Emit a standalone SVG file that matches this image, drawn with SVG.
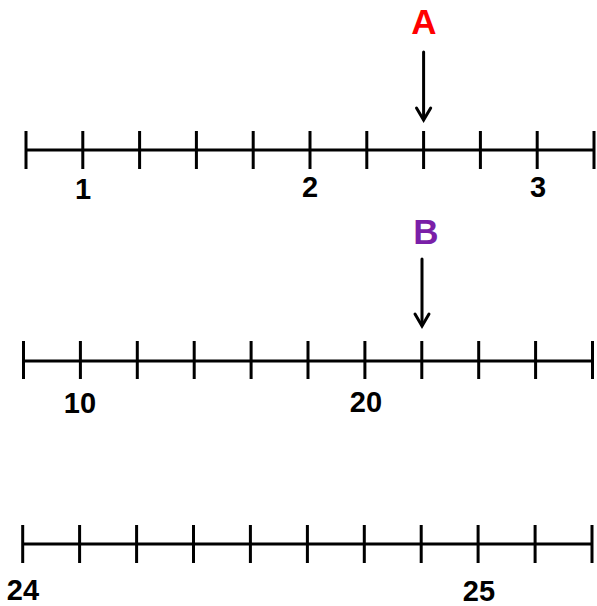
<svg xmlns="http://www.w3.org/2000/svg" width="597" height="606" viewBox="0 0 597 606">
<defs>
<style>
.ln{stroke:#000;stroke-width:3;fill:none;stroke-linecap:butt}
.tk{stroke:#000;stroke-width:3;fill:none}
.ar{stroke:#000;stroke-width:3;fill:none;stroke-linecap:round;stroke-linejoin:miter}
.num{font-family:"Liberation Sans",Arial,sans-serif;font-weight:bold;font-size:29px;fill:#000;text-anchor:middle}
.let{font-family:"Liberation Sans",Arial,sans-serif;font-weight:bold;font-size:35px;text-anchor:middle}
</style>
</defs>
<rect width="597" height="606" fill="#fff"/>

<g id="line1">
<line class="ln" x1="26" y1="150" x2="594" y2="150"/>
<path class="tk" d="M26 131V169M82.8 131V169M139.6 131V169M196.4 131V169M253.2 131V169M310 131V169M366.8 131V169M423.6 131V169M480.4 131V169M537.2 131V169M594 131V169"/>
<text class="num" x="83" y="199">1</text>
<text class="num" x="310" y="197">2</text>
<text class="num" x="538" y="197">3</text>
</g>

<g id="line2">
<line class="ln" x1="23.5" y1="361" x2="592.5" y2="361"/>
<path class="tk" d="M23.5 341V379M80.4 341V379M137.3 341V379M194.2 341V379M251.1 341V379M308 341V379M364.9 341V379M421.8 341V379M478.7 341V379M535.6 341V379M592.5 341V379"/>
<text class="num" x="80" y="413">10</text>
<text class="num" x="366" y="412">20</text>
</g>

<g id="line3">
<line class="ln" x1="22.7" y1="544" x2="592" y2="544"/>
<path class="tk" d="M22.7 525V563M79.6 525V563M136.6 525V563M193.5 525V563M250.4 525V563M307.4 525V563M364.3 525V563M421.2 525V563M478.1 525V563M535.1 525V563M592 525V563"/>
<text class="num" x="23" y="600">24</text>
<text class="num" x="479" y="601">25</text>
</g>

<g id="labelA">
<text class="let" x="424" y="34" fill="#ff0000">A</text>
</g>
<g id="labelB">
<text class="let" x="426" y="244" fill="#7a1fa8">B</text>
</g>

<g id="connectors">
<line class="ar" x1="423.6" y1="52" x2="423.6" y2="119"/>
<polyline class="ar" points="416.5,108 423.6,120 430.7,108"/>
<line class="ar" x1="422" y1="259" x2="422" y2="325"/>
<polyline class="ar" points="415,314 422,326 429,314"/>
</g>
</svg>
